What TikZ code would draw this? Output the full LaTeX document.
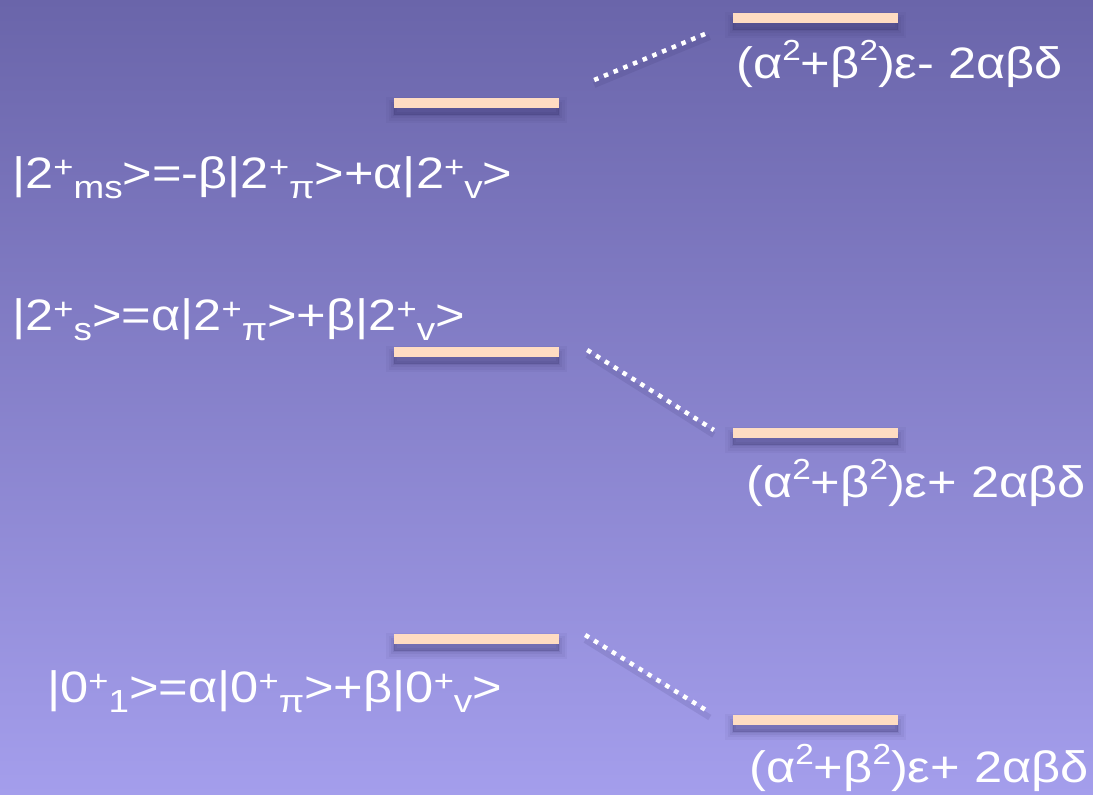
\documentclass[tikz,border=0pt]{standalone}
\usepackage{fontspec}
\setmainfont{Liberation Sans}[FakeStretch=1.15]
\usetikzlibrary{calc}
\definecolor{bgtop}{RGB}{106,101,170}
\definecolor{bgbot}{RGB}{164,158,236}
\definecolor{barcol}{RGB}{255,220,194}
\definecolor{shc}{RGB}{50,45,100}
\newcommand\kup[1]{\raisebox{11pt}{\fontsize{30}{30}\selectfont #1}}
\newcommand\kdn[1]{\raisebox{-10pt}{\fontsize{32}{32}\selectfont #1}}
\newcommand\lup[1]{\raisebox{18pt}{\fontsize{29}{29}\selectfont #1}}
\tikzset{
  level/.style={rectangle, fill=barcol, inner sep=0pt, minimum width=165pt, minimum height=10pt,
    preaction={fill=shc, draw=shc, line width=16pt, opacity=0.05, transform canvas={yshift=-7pt}},
    preaction={fill=shc, draw=shc, line width=11pt, opacity=0.06, transform canvas={yshift=-7pt}},
    preaction={fill=shc, draw=shc, line width=6pt, opacity=0.08, transform canvas={yshift=-7pt}},
    preaction={fill=shc, draw=shc, line width=2pt, opacity=0.10, transform canvas={yshift=-7pt}}},
  ket/.style={anchor=base west, inner sep=0pt, text=white, font=\fontsize{44}{44}\selectfont},
  energy/.style={anchor=base west, inner sep=0pt, text=white, font=\fontsize{44}{44}\selectfont},
  mix/.style={draw=white, line width=4.5pt, dash pattern=on 4.5pt off 6pt,
    preaction={draw=shc, opacity=0.12, line width=6pt, solid, transform canvas={yshift=-5pt}}}
}
\begin{document}
\begin{tikzpicture}[x=1pt,y=-1pt]
\useasboundingbox (0,0) rectangle (1093,795);
\shade[top color=bgtop, bottom color=bgbot] (0,0) rectangle (1093,795);
% levels
\node[level] (a) at (476.5,103) {};
\node[level] (b) at (815.5,18) {};
\node[level] (c) at (476.5,352) {};
\node[level] (d) at (815.5,433) {};
\node[level] (e) at (476.5,639) {};
\node[level] (f) at (815.5,719.5) {};
% mixing lines
\draw[mix] ($(a.east)+(35,-23)$) -- ($(b.west)+(-23,14)$);
\draw[mix] ($(c.east)+(28,-2)$) -- ($(d.west)+(-19,-3)$);
\draw[mix] ($(e.east)+(26,-4)$) -- ($(f.west)+(-23,-7)$);
% state labels
\node[ket] (k1) at (12,188) {|2\kup{+}\kdn{ms}>=-β|2\kup{+}\kdn{π}>+α|2\kup{+}\kdn{v}>};
\node[ket] (k2) at (12,330) {|2\kup{+}\kdn{s}>=α|2\kup{+}\kdn{π}>+β|2\kup{+}\kdn{v}>};
\node[ket] (k3) at (47,702) {|0\kup{+}\kdn{1}>=α|0\kup{+}\kdn{π}>+β|0\kup{+}\kdn{v}>};
% energies
\node[energy] (e1) at (736,78) {(α\lup{2}+β\lup{2})ε- 2αβδ};
\node[energy] (e2) at (746,497) {(α\lup{2}+β\lup{2})ε+ 2αβδ};
\node[energy] (e3) at (749,782) {(α\lup{2}+β\lup{2})ε+ 2αβδ};
\end{tikzpicture}
\end{document}
